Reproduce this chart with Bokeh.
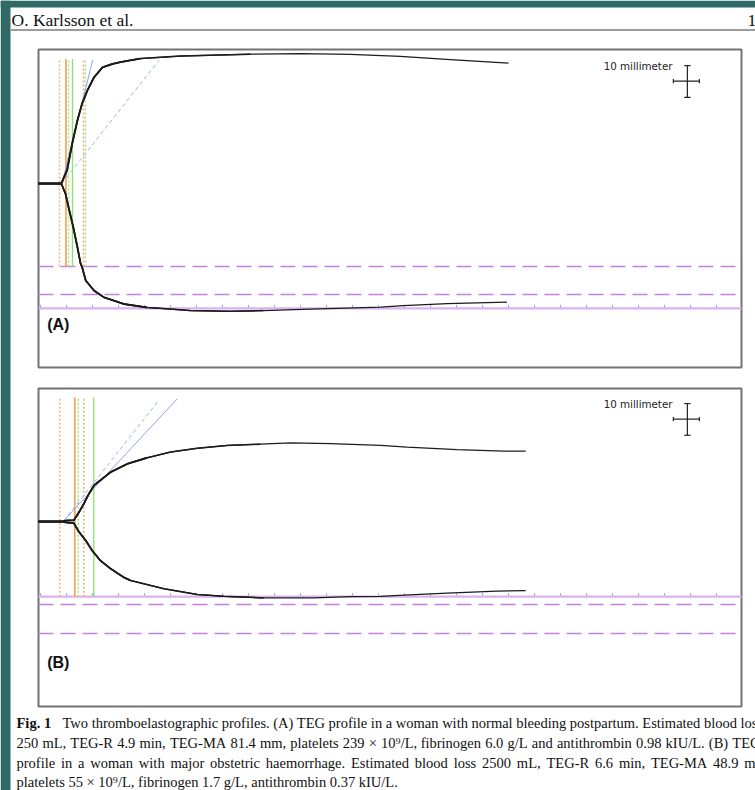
from bokeh.plotting import figure
from bokeh.models import Range1d, Label
from bokeh.embed import file_html
from bokeh.resources import INLINE

# ---------------- data (time in minutes, half-amplitude in mm) ----------------
# Panel A: normal bleeding postpartum
A_UPPER_T = [-0.4, 4.0, 5.1, 6.1, 7.1, 8.0, 9.0, 10.3, 11.9, 13.8, 15.4, 19.2, 26.9,
             40.4, 50.0, 59.6, 69.2, 78.8, 90.0]
A_UPPER_MM = [0.0, 0.0, 4.1, 12.6, 19.9, 25.2, 29.3, 33.5, 36.6, 37.7, 38.3, 39.4, 40.2,
              40.8, 41.0, 40.7, 40.1, 39.1, 38.0]
A_LOWER_T = [-0.4, 4.0, 4.8, 5.4, 6.3, 7.1, 7.7, 8.0, 8.7, 10.3, 12.2, 16.0, 20.5, 25.0,
             28.8, 36.5, 42.9, 51.9, 65.4, 69.8, 78.2, 89.7]
A_LOWER_MM = [0.0, 0.0, -3.2, -7.5, -13.8, -20.1, -25.2, -26.4, -30.6, -33.8, -35.9, -38.0,
              -39.1, -39.6, -40.1, -40.3, -40.1, -39.6, -39.0, -38.5, -37.9, -37.4]
A_R_TIME = [4.9]                    # orange solid
A_ORANGE_DOTTED = [3.65, 8.27]
A_GREEN_SOLID = [6.15]
A_GREEN_DOTTED = [5.4, 8.65]
A_VLINE_TOP, A_VLINE_BOTTOM = 39.3, -26.2
A_TANGENT_T, A_TANGENT_MM = [4.17, 10.06], [0.4, 39.0]
A_REF_T, A_REF_MM = [4.1, 22.75], [0.0, 38.8]
A_MA_LEVEL = -39.4
A_RANGE_LEVELS = [-26.2, -35.0]

# Panel B: major obstetric haemorrhage
B_UPPER_T = [-0.4, 4.2, 5.0, 6.4, 7.4, 8.3, 9.3, 10.3, 11.9, 13.5, 16.7, 20.5, 25.0, 30.1,
             35.9, 42.3, 48.1, 55.8, 65.4, 70.5, 80.1, 89.1, 93.3]
B_UPPER_MM = [0.0, 0.0, 0.3, 0.4, 2.9, 5.5, 8.7, 11.4, 13.5, 15.6, 18.2, 20.1, 21.9, 23.1,
              24.0, 24.4, 24.8, 24.6, 24.0, 23.5, 22.7, 22.2, 22.2]
B_LOWER_T = [-0.4, 4.2, 5.0, 6.4, 7.4, 8.7, 9.9, 11.5, 13.5, 16.0, 17.3, 23.7, 30.1, 35.3,
             42.9, 52.6, 59.6, 65.4, 69.9, 78.2, 87.8, 93.3]
B_LOWER_MM = [0.0, 0.0, -0.3, -0.5, -3.3, -6.0, -9.1, -12.3, -14.9, -17.6, -18.6, -21.2,
              -23.0, -23.6, -24.1, -24.1, -23.7, -23.6, -23.2, -22.6, -22.0, -21.8]
B_R_TIME = [6.6]
B_ORANGE_DOTTED = [3.7, 8.33]
B_GREEN_SOLID = [10.25]
B_GREEN_DOTTED = [7.25]
B_VLINE_TOP, B_VLINE_BOTTOM = 39.1, -23.7
B_TANGENT_T, B_TANGENT_MM = [4.48, 26.3], [0.3, 38.7]
B_REF_T, B_REF_MM = [4.48, 22.75], [0.3, 38.2]
B_MA_LEVEL = -23.7
B_RANGE_LEVELS = [-26.2, -35.3]

TICK_MINUTES = [0, 5, 10, 15, 20, 25, 30, 35, 40, 45, 50, 55, 60, 65, 70, 75, 80, 85, 90,
                95, 100, 105, 110, 115, 120, 125, 130]

HEADER_LEFT = "O. Karlsson et al."
HEADER_PAGE = "1"
CAPTION_FIG = "Fig. 1"
CAPTION_LINES = [
    "Two thromboelastographic profiles. (A) TEG profile in a woman with normal bleeding postpartum. Estimated blood loss",
    "250 mL, TEG-R 4.9 min, TEG-MA 81.4 mm, platelets 239 \u00d7 10\u2079/L, fibrinogen 6.0 g/L and antithrombin 0.98 kIU/L. (B) TEG",
    "profile in a woman with major obstetric haemorrhage. Estimated blood loss 2500 mL, TEG-R 6.6 min, TEG-MA 48.9 mm,",
    "platelets 55 \u00d7 10\u2079/L, fibrinogen 1.7 g/L, antithrombin 0.37 kIU/L.",
]

# ---------------- layout / style ----------------
PAGE_W, PAGE_H = 755, 790
PX_PER_MIN, PX_PER_MM = 5.2, 3.17
T0_X = 40                       # page x of t = 0
FRAME_L, FRAME_R = 38, 741
PANELS = {"A": (49, 367, 183), "B": (388, 706, 521)}   # frame top, bottom, baseline (page px)
T_LEFT = (FRAME_L - T0_X) / PX_PER_MIN
T_RIGHT = (FRAME_R - T0_X) / PX_PER_MIN
TRACE_WIDTHS = [(999, 1.25), (45, 1.5), (22, 1.9)]   # (draw up to minute, line width)

SERIF = "Liberation Serif"
CAP_FS = 14.5
CAP_X = [62, 16, 16, 16]
CAP_JUSTIFY_TO = [None, 760, 770, None]     # right end of justified caption lines
CAP_BASE = [722, 742, 762, 781.5]
ORANGE, ORANGE_L = "#f29a3c", "#f3b27a"
GREEN, GREEN_L = "#8be36a", "#a8e48c"
BLUE, BLUE_L = "#8ea6ee", "#9db3f0"
PURPLE, LAVENDER = "#c57ee3", "#d9b2ef"
TEAL = "#2f6b64"

# Times / Liberation Serif advance widths (1/1000 em) for justification
_TW = dict(zip("abcdefghijklmnopqrstuvwxyz",
               [444, 500, 444, 500, 444, 333, 500, 500, 278, 278, 500, 278, 778, 500, 500,
                500, 500, 333, 389, 278, 500, 500, 722, 500, 500, 444]))
_TW.update({c: 500 for c in "0123456789"})
_TW.update({".": 250, ",": 250, "-": 333, "(": 333, ")": 333, "/": 278, "\u00d7": 564,
            "\u2079": 300, "A": 722, "B": 667, "E": 611, "G": 722, "I": 333, "L": 611,
            "M": 889, "R": 667, "T": 611, "U": 722, "F": 556, "K": 722, "O": 722})


def word_width(w, fs):
    return sum(_TW.get(c, 500) for c in w) * fs / 1000.0


p = figure(width=PAGE_W, height=PAGE_H, x_range=Range1d(0, PAGE_W),
           y_range=Range1d(PAGE_H, 0), x_axis_type=None, y_axis_type=None,
           toolbar_location=None, output_backend="svg", min_border=0)
p.outline_line_color = None
p.background_fill_color = "white"
p.border_fill_color = "white"

# time scale shared by both panels, amplitude scale per panel
p.extra_x_ranges = {"t": Range1d(-T0_X / PX_PER_MIN, (PAGE_W - T0_X) / PX_PER_MIN)}
p.extra_y_ranges = {
    k: Range1d((base - PAGE_H) / PX_PER_MM, base / PX_PER_MM) for k, (_, _, base) in PANELS.items()
}

# page background pieces
p.quad(left=[0, 0], right=[10, PAGE_W], top=[0, 0], bottom=[PAGE_H, 7], fill_color=TEAL,
       line_color=None)
p.line([10, PAGE_W], [29.5, 29.5], line_color="#9c9c9c", line_width=2)
p.add_layout(Label(x=11, y=19.5, text=HEADER_LEFT, text_font=SERIF, text_font_size="17.5px",
                   text_color="#111111", text_baseline="alphabetic"))
p.add_layout(Label(x=747, y=19.5, text=HEADER_PAGE, text_font=SERIF, text_font_size="17.5px",
                   text_color="#111111", text_baseline="alphabetic"))

# panel frames
p.quad(left=[FRAME_L, FRAME_L], right=[FRAME_R, FRAME_R],
       top=[PANELS["A"][0], PANELS["B"][0]], bottom=[PANELS["A"][1], PANELS["B"][1]],
       fill_color="white", line_color="#727272", line_width=2)


def draw_panel(k, data, label):
    (ut, um, lt, lm, rt, od, gs, gd, vt, vb, tt, tm, rft, rfm, ma, rl) = data
    kw = dict(x_range_name="t", y_range_name=k)
    n = len(rl)
    p.segment(x0=[T_LEFT] * n, x1=[T_RIGHT] * n, y0=rl, y1=rl, line_color=PURPLE,
              line_width=1.5, line_dash="15 7", **kw)
    p.segment(x0=[T_LEFT], x1=[T_RIGHT], y0=[ma], y1=[ma], line_color=LAVENDER,
              line_width=2.2, **kw)
    m = len(TICK_MINUTES)
    p.segment(x0=TICK_MINUTES, x1=TICK_MINUTES, y0=[ma + 0.3] * m, y1=[ma + 1.1] * m,
              line_color="#86a9ea", line_width=1, **kw)
    for t in od:
        p.line([t, t], [vb, vt], line_color=ORANGE_L, line_width=1.6, line_dash="2 2", **kw)
    for t in gd:
        p.line([t, t], [vb, vt], line_color=GREEN_L, line_width=1.6, line_dash="2 2", **kw)
    for t in rt:
        p.line([t, t], [vb, vt], line_color=ORANGE, line_width=1.5, **kw)
    for t in gs:
        p.line([t, t], [vb, vt], line_color=GREEN, line_width=1.3, **kw)
    p.line(tt, tm, line_color=BLUE, line_width=1, **kw)
    p.line(rft, rfm, line_color=BLUE_L, line_width=1, line_dash="4 3", **kw)
    # trace: thin over its whole length, heavier during clot formation
    for xs, ys in ((ut, um), (lt, lm)):
        for upto, lw in TRACE_WIDTHS:
            idx = [i for i, t in enumerate(xs) if t <= upto]
            p.line([xs[i] for i in idx], [ys[i] for i in idx], line_color="#1c1c1c",
                   line_width=lw, **kw)
    # scale cross: 10 mm vertical, 5 min horizontal
    p.segment(x0=[124.4, 121.7, 123.8, 123.8, 121.7, 126.7],
              x1=[124.4, 126.7, 125.0, 125.0, 121.7, 126.7],
              y0=[37.2, 32.3, 37.2, 27.2, 31.6, 31.6],
              y1=[27.2, 32.3, 37.2, 27.2, 33.0, 33.0],
              line_color="#222222", line_width=1.2, **kw)
    p.add_layout(Label(x=108.3, y=37.0, text="10 millimeter", text_font="DejaVu Sans",
                       text_font_size="10.3px", text_color="#222222",
                       text_baseline="alphabetic", **kw))
    p.add_layout(Label(x=1.29, y=-44.5, text=label, text_font="Liberation Sans",
                       text_font_size="16px", text_font_style="bold", text_color="#111111",
                       text_baseline="alphabetic", **kw))


draw_panel("A", (A_UPPER_T, A_UPPER_MM, A_LOWER_T, A_LOWER_MM, A_R_TIME, A_ORANGE_DOTTED,
                 A_GREEN_SOLID, A_GREEN_DOTTED, A_VLINE_TOP, A_VLINE_BOTTOM, A_TANGENT_T,
                 A_TANGENT_MM, A_REF_T, A_REF_MM, A_MA_LEVEL, A_RANGE_LEVELS), "(A)")
draw_panel("B", (B_UPPER_T, B_UPPER_MM, B_LOWER_T, B_LOWER_MM, B_R_TIME, B_ORANGE_DOTTED,
                 B_GREEN_SOLID, B_GREEN_DOTTED, B_VLINE_TOP, B_VLINE_BOTTOM, B_TANGENT_T,
                 B_TANGENT_MM, B_REF_T, B_REF_MM, B_MA_LEVEL, B_RANGE_LEVELS), "(B)")

# caption
p.add_layout(Label(x=16, y=CAP_BASE[0], text=CAPTION_FIG, text_font=SERIF,
                   text_font_size=f"{CAP_FS}px", text_font_style="bold", text_color="#111111",
                   text_baseline="alphabetic"))
for i, line in enumerate(CAPTION_LINES):
    if CAP_JUSTIFY_TO[i] is None:
        p.add_layout(Label(x=CAP_X[i], y=CAP_BASE[i], text=line, text_font=SERIF,
                           text_font_size=f"{CAP_FS}px", text_color="#111111",
                           text_baseline="alphabetic"))
        continue
    words = line.split(" ")
    widths = [word_width(w, CAP_FS) for w in words]
    gap = (CAP_JUSTIFY_TO[i] - CAP_X[i] - sum(widths)) / (len(words) - 1)
    x = CAP_X[i]
    for w, wd in zip(words, widths):
        p.add_layout(Label(x=x, y=CAP_BASE[i], text=w, text_font=SERIF,
                           text_font_size=f"{CAP_FS}px", text_color="#111111",
                           text_baseline="alphabetic"))
        x += wd + gap

open("out.html", "w").write(file_html(p, INLINE))
